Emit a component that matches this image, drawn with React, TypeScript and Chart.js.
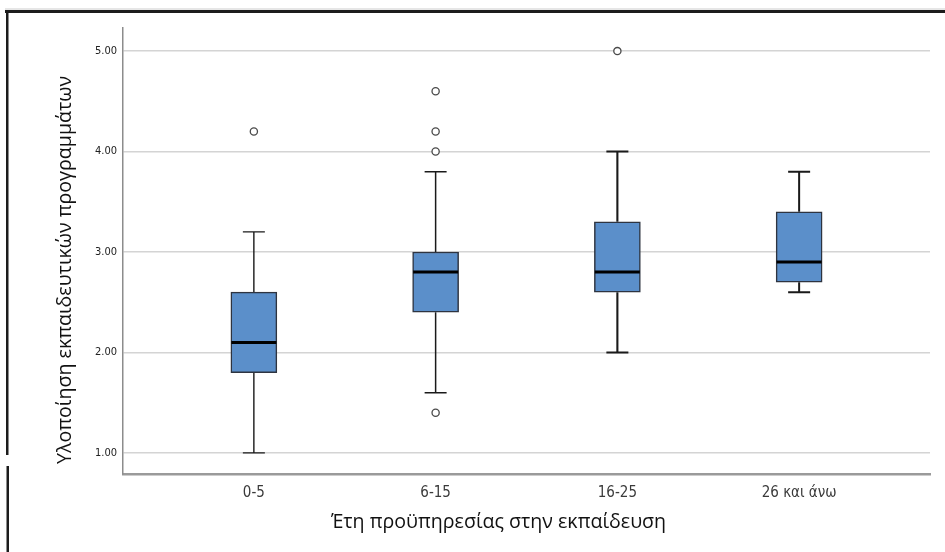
import React, { useEffect, useRef } from "react";
import { Chart, registerables } from "chart.js";

Chart.register(...registerables);

const categories = ["0-5", "6-15", "16-25", "26 και άνω"];
const whiskerLow = [1.0, 1.6, 2.0, 2.6];
const quartile1 = [1.8, 2.4, 2.6, 2.7];
const medians = [2.1, 2.8, 2.8, 2.9];
const quartile3 = [2.6, 3.0, 3.3, 3.4];
const whiskerHigh = [3.2, 3.8, 4.0, 3.8];
const outlierCategory = [0, 1, 1, 1, 1, 2];
const outlierValue = [4.2, 4.6, 4.2, 4.0, 1.4, 5.0];
const yTickValues = [1, 2, 3, 4, 5];
const yTitle = "Υλοποίηση εκπαιδευτικών προγραμμάτων";
const xTitle = "Έτη προϋπηρεσίας στην εκπαίδευση";

const NARROW = "'Liberation Sans Narrow', 'DejaVu Sans Condensed', 'Liberation Sans', sans-serif";
const TITLE_FONT = "'Open Sans', 'Noto Sans', sans-serif";

const whiskerWidths = [1.4, 1.5, 2.1, 2.0];

const boxPartsPlugin = {
  id: "boxParts",
  beforeDatasetsDraw(chart: any) {
    const ctx = chart.ctx;
    const xs = chart.scales.x;
    const ys = chart.scales.y;
    ctx.save();
    ctx.strokeStyle = "#1a1a1a";
    categories.forEach((_, i) => {
      const x = xs.getPixelForValue(i);
      const cap = 11;
      ctx.lineWidth = whiskerWidths[i];
      ctx.beginPath();
      ctx.moveTo(x, ys.getPixelForValue(quartile3[i]));
      ctx.lineTo(x, ys.getPixelForValue(whiskerHigh[i]));
      ctx.moveTo(x, ys.getPixelForValue(quartile1[i]));
      ctx.lineTo(x, ys.getPixelForValue(whiskerLow[i]));
      ctx.moveTo(x - cap, ys.getPixelForValue(whiskerHigh[i]));
      ctx.lineTo(x + cap, ys.getPixelForValue(whiskerHigh[i]));
      ctx.moveTo(x - cap, ys.getPixelForValue(whiskerLow[i]));
      ctx.lineTo(x + cap, ys.getPixelForValue(whiskerLow[i]));
      ctx.stroke();
    });
    ctx.restore();
  },
  afterDatasetsDraw(chart: any) {
    const ctx = chart.ctx;
    const xs = chart.scales.x;
    const ys = chart.scales.y;
    const meta = chart.getDatasetMeta(0);
    ctx.save();
    ctx.strokeStyle = "#000000";
    ctx.lineWidth = 3;
    categories.forEach((_, i) => {
      const bar = meta.data[i];
      const half = bar ? bar.width / 2 : 23;
      const x = xs.getPixelForValue(i);
      const y = ys.getPixelForValue(medians[i]);
      ctx.beginPath();
      ctx.moveTo(x - half + 0.5, y);
      ctx.lineTo(x + half - 0.5, y);
      ctx.stroke();
    });
    ctx.restore();
  },
  afterDraw(chart: any) {
    const ctx = chart.ctx;
    const area = chart.chartArea;
    ctx.save();
    // frame
    ctx.fillStyle = "#e6e6e6";
    ctx.fillRect(5, 8, 940, 2);
    ctx.fillStyle = "#1c1c1c";
    ctx.fillRect(5, 10, 940, 3);
    ctx.fillRect(6, 10, 2.5, 445);
    ctx.fillRect(6.5, 466, 2.5, 86);
    // titles
    ctx.fillStyle = "#111111";
    ctx.font = "19.6px " + TITLE_FONT;
    ctx.textAlign = "center";
    ctx.textBaseline = "middle";
    ctx.fillText(xTitle, (area.left + area.right) / 2 - 28, 522);
    ctx.translate(65, 270);
    ctx.rotate(-Math.PI / 2);
    ctx.fillText(yTitle, 0, 0);
    ctx.restore();
  },
};

export default function App() {
  const canvasRef = useRef<HTMLCanvasElement | null>(null);

  useEffect(() => {
    const canvas = canvasRef.current;
    if (!canvas) return;
    const chart = new Chart(canvas, {
      type: "bar",
      data: {
        datasets: [
          {
            type: "bar",
            data: categories.map((_, i) => ({ x: i, y: [quartile1[i], quartile3[i]] })) as any,
            backgroundColor: "#5b8fca",
            borderColor: "#2e3440",
            borderWidth: 1.5,
            borderSkipped: false,
            barThickness: 46,
            order: 2,
          } as any,
          {
            type: "scatter",
            data: outlierCategory.map((c, i) => ({ x: c, y: outlierValue[i] })),
            pointStyle: "circle",
            pointRadius: 3.6,
            pointBackgroundColor: "#ffffff",
            pointBorderColor: "#4a4a4a",
            pointBorderWidth: 1.3,
            order: 1,
          } as any,
        ],
      },
      options: {
        animation: false,
        responsive: false,
        devicePixelRatio: 1,
        layout: { padding: { left: 0, top: 28, right: 15, bottom: 0 } },
        plugins: {
          legend: { display: false },
          tooltip: { enabled: false },
        },
        scales: {
          x: {
            type: "linear",
            min: -0.72,
            max: 3.72,
            offset: false,
            grid: { display: false, drawTicks: false },
            border: { display: true, color: "#9a9a9a", width: 2.5 },
            afterBuildTicks: (s: any) => {
              s.ticks = categories.map((_, i) => ({ value: i }));
            },
            afterFit: (s: any) => {
              s.height = 78;
            },
            ticks: {
              autoSkip: false,
              maxRotation: 0,
              padding: 10,
              color: "#3a3a3a",
              font: { family: NARROW, size: 15 },
              callback: (v: any) => categories[v as number] ?? "",
            },
          },
          y: {
            type: "linear",
            min: 0.79,
            max: 5.23,
            grid: { color: "#d4d4d4", lineWidth: 1.6, drawTicks: false },
            border: { display: true, color: "#8c8c8c", width: 1.5 },
            afterBuildTicks: (s: any) => {
              s.ticks = yTickValues.map((v) => ({ value: v }));
            },
            afterFit: (s: any) => {
              s.width = 123;
            },
            ticks: {
              padding: 6,
              color: "#222222",
              font: { family: NARROW, size: 11 },
              callback: (v: any) => Number(v).toFixed(2),
            },
          },
        },
      },
      plugins: [boxPartsPlugin],
    });
    return () => chart.destroy();
  }, []);

  return (
    <div style={{ position: "fixed", left: 0, top: 0, width: 945, height: 552, background: "#ffffff" }}>
      <canvas ref={canvasRef} width={945} height={552} />
    </div>
  );
}
